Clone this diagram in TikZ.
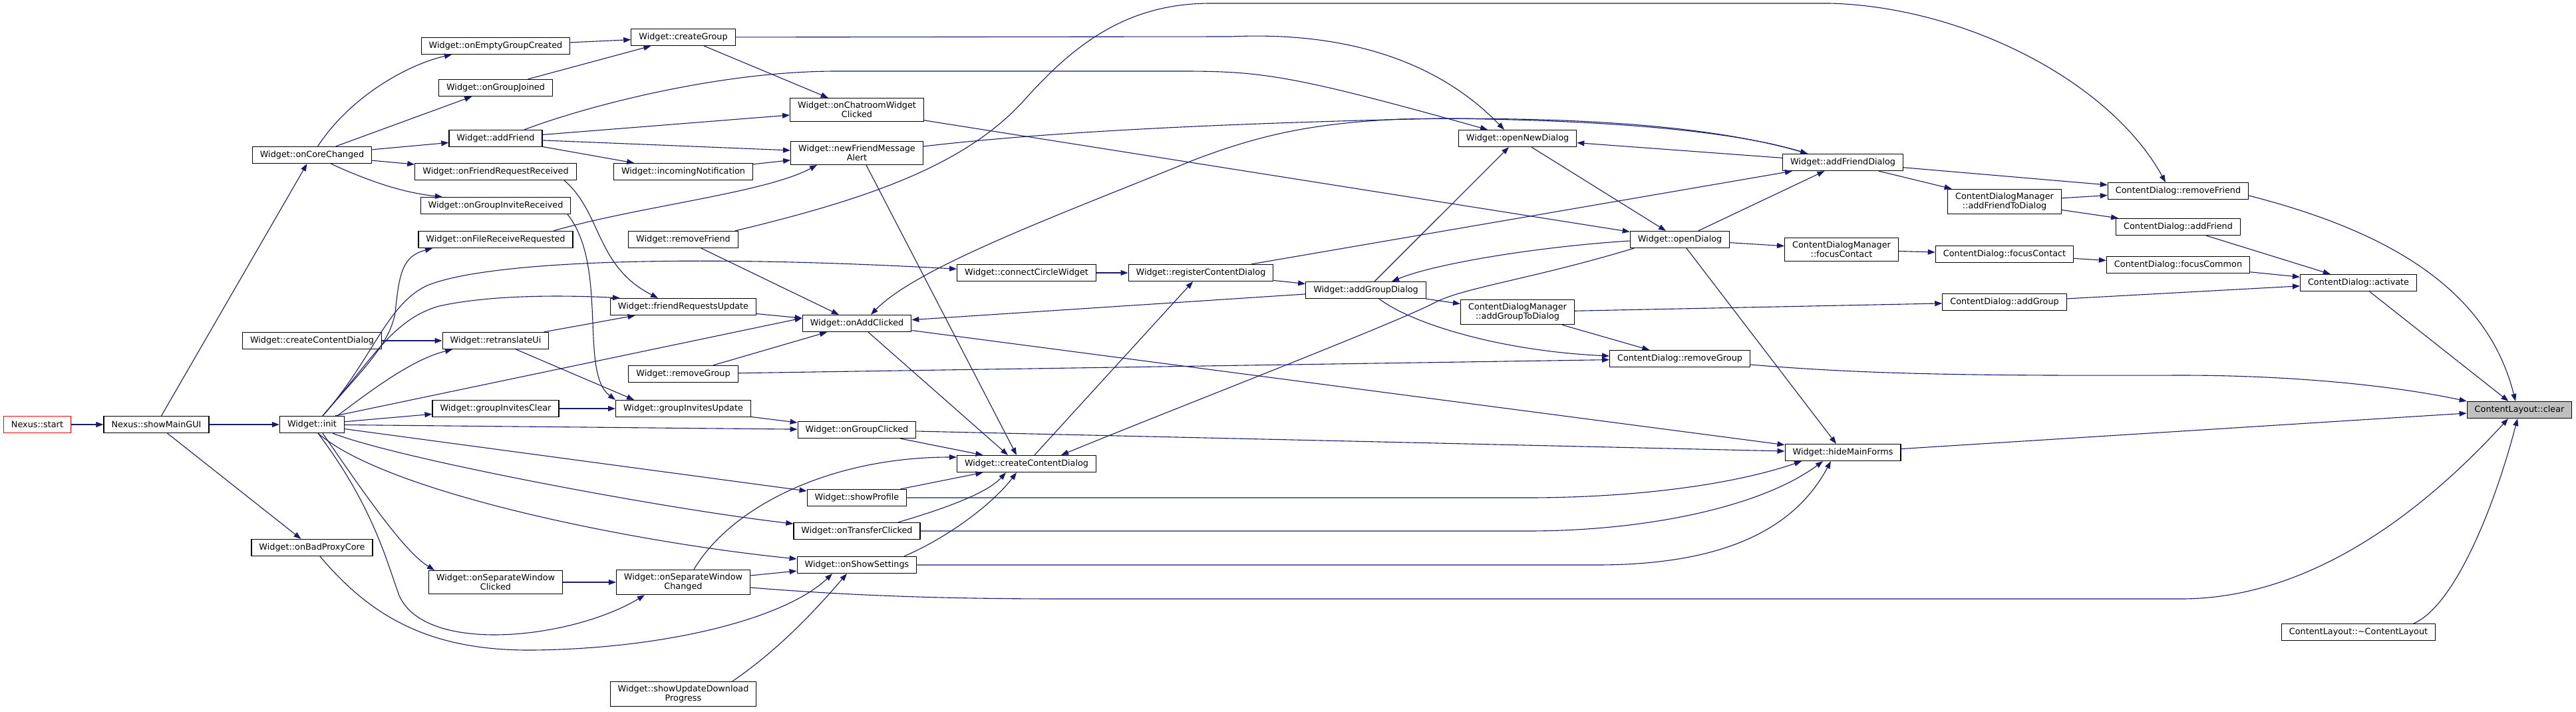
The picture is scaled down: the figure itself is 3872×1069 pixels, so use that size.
\documentclass[tikz,border=0pt]{standalone}
\usepackage{fontspec}
\setmainfont{DejaVu Sans}
\usepackage{tikz}
\usetikzlibrary{arrows.meta}
\definecolor{edgeblue}{HTML}{191970}
\definecolor{hilite}{HTML}{BFBFBF}
\definecolor{rootred}{HTML}{FF0000}

\begin{document}
\begin{tikzpicture}[x=1pt,y=-1pt,
    fn/.style={draw=black,line width=1.2pt,fill=white,align=center,
      font=\fontsize{12.8}{14}\selectfont,inner xsep=11.5pt,inner ysep=5.5pt,minimum height=25pt},
    call/.style={draw=edgeblue,line width=1.1pt,-{Triangle[length=11pt,width=8pt]}}]
  \useasboundingbox (0,0) rectangle (3872,1069);

  % callers, left to right
  \node[fn,draw=rootred] (start) at (56,638) {Nexus::start};
  \node[fn] (gui) at (235,638) {Nexus::showMainGUI};
  \node[fn] (init) at (469,638) {Widget::init};
  \node[fn] (core) at (469,233) {Widget::onCoreChanged};
  \node[fn] (ccdA) at (469,512) {Widget::createContentDialog};
  \node[fn] (badproxy) at (469,823) {Widget::onBadProxyCore};
  \node[fn] (emptygrp) at (745,69) {Widget::onEmptyGroupCreated};
  \node[fn] (grpjoined) at (745,132) {Widget::onGroupJoined};
  \node[fn] (addfr) at (745,208) {Widget::addFriend};
  \node[fn] (frreq) at (745,258) {Widget::onFriendRequestReceived};
  \node[fn] (grpinv) at (745,309) {Widget::onGroupInviteReceived};
  \node[fn] (filerecv) at (745,360) {Widget::onFileReceiveRequested};
  \node[fn] (retrans) at (745,512) {Widget::retranslateUi};
  \node[fn] (invclear) at (745,614) {Widget::groupInvitesClear};
  \node[fn] (sepclick) at (745,875) {Widget::onSeparateWindow\\Clicked};
  \node[fn] (creategrp) at (1027,56) {Widget::createGroup};
  \node[fn] (incoming) at (1027,258) {Widget::incomingNotification};
  \node[fn] (rmfr) at (1027,360) {Widget::removeFriend};
  \node[fn] (frupd) at (1027,461) {Widget::friendRequestsUpdate};
  \node[fn] (rmgrp) at (1027,562) {Widget::removeGroup};
  \node[fn] (invupd) at (1027,614) {Widget::groupInvitesUpdate};
  \node[fn] (sepchg) at (1027,875) {Widget::onSeparateWindow\\Changed};
  \node[fn] (updprog) at (1027,1043) {Widget::showUpdateDownload\\Progress};
  \node[fn] (chatroom) at (1288,165) {Widget::onChatroomWidget\\Clicked};
  \node[fn] (newmsg) at (1288,230) {Widget::newFriendMessage\\Alert};
  \node[fn] (addclk) at (1288,486) {Widget::onAddClicked};
  \node[fn] (grpclk) at (1288,646) {Widget::onGroupClicked};
  \node[fn] (profile) at (1288,748) {Widget::showProfile};
  \node[fn] (transfer) at (1288,798) {Widget::onTransferClicked};
  \node[fn] (settings) at (1288,849) {Widget::onShowSettings};
  \node[fn] (circle) at (1543,410) {Widget::connectCircleWidget};
  \node[fn] (ccd) at (1543,697) {Widget::createContentDialog};
  \node[fn] (regdlg) at (1805,410) {Widget::registerContentDialog};
  \node[fn] (addgrpdlg) at (2053,436) {Widget::addGroupDialog};
  \node[fn] (opennew) at (2281,208) {Widget::openNewDialog};
  \node[fn] (addgrptodlg) at (2281,469) {ContentDialogManager\\::addGroupToDialog};
  \node[fn] (opendlg) at (2525,360) {Widget::openDialog};
  \node[fn] (cdrmgrp) at (2525,539) {ContentDialog::removeGroup};
  \node[fn] (addfrdlg) at (2770,244) {Widget::addFriendDialog};
  \node[fn] (mgrfocus) at (2768,375) {ContentDialogManager\\::focusContact};
  \node[fn] (hidemain) at (2770,680) {Widget::hideMainForms};
  \node[fn] (addfrtodlg) at (3013,303) {ContentDialogManager\\::addFriendToDialog};
  \node[fn] (cdfocus) at (3013,382) {ContentDialog::focusContact};
  \node[fn] (cdaddgrp) at (3013,454) {ContentDialog::addGroup};
  \node[fn] (cdrmfr) at (3274,287) {ContentDialog::removeFriend};
  \node[fn] (cdaddfr) at (3274,341) {ContentDialog::addFriend};
  \node[fn] (cdcommon) at (3274,398) {ContentDialog::focusCommon};
  \node[fn] (activate) at (3545,425) {ContentDialog::activate};
  \node[fn] (dtor) at (3545,950) {ContentLayout::\textasciitilde ContentLayout};
  \node[fn,fill=hilite] (clear) at (3787,616) {ContentLayout::clear};

  % straight calls
  \foreach \a/\b in {start/gui, gui/init, gui/core, gui/badproxy, core/grpjoined,
      core/addfr, core/frreq, emptygrp/creategrp, grpjoined/creategrp,
      addfr/chatroom, addfr/newmsg, addfr/incoming, creategrp/chatroom,
      incoming/newmsg, ccdA/retrans, init/invclear, retrans/frupd,
      invclear/invupd, invupd/grpclk, init/grpclk, init/profile, sepclick/sepchg,
      sepchg/settings, grpclk/hidemain, addclk/hidemain, opendlg/hidemain,
      grpclk/ccd, profile/ccd, ccd/regdlg, circle/regdlg, regdlg/addgrpdlg,
      regdlg/addfrdlg, frupd/addclk, rmfr/addclk, rmgrp/addclk, addgrpdlg/addclk,
      chatroom/opendlg, addgrpdlg/opennew, opennew/opendlg, addfrdlg/opennew,
      opendlg/addfrdlg, opendlg/mgrfocus, addgrpdlg/addgrptodlg,
      addgrptodlg/cdrmgrp, addgrptodlg/cdaddgrp, rmgrp/cdrmgrp, addfrdlg/cdrmfr,
      addfrdlg/addfrtodlg, addfrtodlg/cdrmfr, addfrtodlg/cdaddfr,
      mgrfocus/cdfocus, cdfocus/cdcommon, cdaddfr/activate, cdcommon/activate,
      cdaddgrp/activate, activate/clear, hidemain/clear}
    \draw[call] (\a) -- (\b);

  % curved calls
  \draw[call] (core) .. controls (530,140) and (620,95) .. ([xshift=-66]emptygrp.south);
  \draw[call] (core) .. controls (560,275) and (610,290) .. ([xshift=-80]grpinv.north);
  \draw[call] ([xshift=43]addfr.north) .. controls (880,160) and (1080,107) .. (1257,107)
    -- (1780,107) .. controls (1900,107) and (1950,115) .. ([xshift=-45]opennew.north);
  \draw[call] (creategrp) -- (1850,55) .. controls (2000,48) and (2150,80) .. ([xshift=-20]opennew.north);
  \draw[call] ([xshift=108]grpinv.south) .. controls (915,400) and (870,560) .. ([xshift=-102]invupd.north);
  \draw[call] ([xshift=103]frreq.south) .. controls (905,320) and (895,400) .. ([xshift=-38]frupd.north);
  \draw[call] ([xshift=87]filerecv.north) .. controls (960,310) and (1150,290) .. ([xshift=-60]newmsg.south);
  \draw[call] (retrans) -- ([xshift=-74]invupd.north);

  % Widget::init fan
  \draw[call] ([xshift=16]init.north) .. controls (540,560) and (585,520) .. (594,470)
    .. controls (600,410) and (605,385) .. ([xshift=-95]filerecv.south);
  \draw[call] ([xshift=16]init.north) .. controls (560,540) and (580,460) .. (640,430)
    .. controls (720,395) and (1000,380) .. (circle);
  \draw[call] ([xshift=16]init.north) .. controls (560,540) and (590,480) .. (660,460)
    .. controls (750,440) and (880,445) .. ([xshift=-95]frupd.north);
  \draw[call] ([xshift=38]init.north) .. controls (560,585) and (620,540) .. ([xshift=-65]retrans.south);
  \draw[call] ([xshift=35]init.north) -- ([yshift=8]addclk.west);
  \draw[call] ([xshift=31]init.south) .. controls (600,690) and (1000,765) .. (transfer);
  \draw[call] ([xshift=9]init.south) .. controls (580,740) and (950,815) .. (settings);
  \draw[call] ([xshift=16]init.south) .. controls (560,760) and (610,830) .. ([xshift=-92]sepclick.north);
  \draw[call] ([xshift=9]init.south) .. controls (560,760) and (580,840) .. (600,895)
    .. controls (640,985) and (860,960) .. ([xshift=-58]sepchg.south);

  \draw[call] ([xshift=12]badproxy.south) .. controls (560,930) and (650,978) .. (800,977)
    .. controls (1000,975) and (1180,930) .. ([xshift=-37]settings.south);
  \draw[call] ([xshift=74]updprog.north) .. controls (1180,970) and (1240,900) .. ([xshift=-15]settings.south);
  \draw[call] ([xshift=16]sepchg.north) .. controls (1100,760) and (1250,687) .. ([yshift=10]ccd.west);
  \draw[call] ([yshift=-8]sepchg.east) .. controls (1300,897) and (1450,900) .. (1600,900)
    -- (3278,900) .. controls (3480,900) and (3650,760) .. ([xshift=-17]clear.south);

  % into hideMainForms and createContentDialog
  \draw[call] (settings) -- (2400,849) .. controls (2600,849) and (2700,790) .. ([xshift=-18]hidemain.south);
  \draw[call] (transfer) -- (2296,798) .. controls (2480,798) and (2650,760) .. ([xshift=-30]hidemain.south);
  \draw[call] (profile) -- (2296,748) .. controls (2450,748) and (2600,730) .. ([xshift=-62]hidemain.south);
  \draw[call] ([xshift=62]transfer.north) .. controls (1400,770) and (1480,745) .. ([xshift=-31]ccd.south);
  \draw[call] ([xshift=71]settings.north) .. controls (1420,810) and (1490,760) .. ([xshift=-15]ccd.south);
  \draw[call] ([xshift=17]addclk.south) -- ([xshift=-28]ccd.north);
  \draw[call] ([xshift=14]newmsg.south) -- ([xshift=-15]ccd.north);
  \draw[call] ([xshift=-69]opendlg.south) .. controls (2300,420) and (2200,432) .. (2156,455)
    .. controls (2100,485) and (1750,620) .. ([xshift=52]ccd.north);

  % dialogs
  \draw[call] ([xshift=-53]addfrdlg.north) .. controls (2550,180) and (2300,176) .. (2105,179)
    .. controls (1980,185) and (1900,200) .. (1793,241)
    .. controls (1600,320) and (1380,400) .. ([xshift=21]addclk.north);
  \draw[call] ([yshift=10]newmsg.east) .. controls (1600,195) and (1900,184) .. (2165,178)
    .. controls (2400,180) and (2600,195) .. ([xshift=-53]addfrdlg.north);
  \draw[call] ([yshift=-2]opendlg.west) .. controls (2320,370) and (2160,395) .. ([xshift=39]addgrpdlg.north);
  \draw[call] ([xshift=20]addgrpdlg.south) .. controls (2120,485) and (2250,527) .. ([yshift=4]cdrmgrp.west);
  \draw[call] ([xshift=78]rmfr.north) .. controls (1300,300) and (1450,250) .. (1540,150)
    .. controls (1620,60) and (1700,5) .. (1820,5) -- (2750,5)
    .. controls (2950,10) and (3170,120) .. ([xshift=-19]cdrmfr.north);

  % into ContentLayout::clear
  \draw[call] ([yshift=-7]cdrmfr.east) .. controls (3600,350) and (3740,440) .. ([xshift=-6]clear.north);
  \draw[call] ([yshift=-9]cdrmgrp.east) .. controls (2800,562) and (2950,565) .. (3278,564)
    .. controls (3450,564) and (3600,580) .. (clear.north west);
  \draw[call] ([xshift=83]dtor.north) .. controls (3690,910) and (3750,760) .. ([xshift=-3]clear.south);
\end{tikzpicture}
\end{document}
